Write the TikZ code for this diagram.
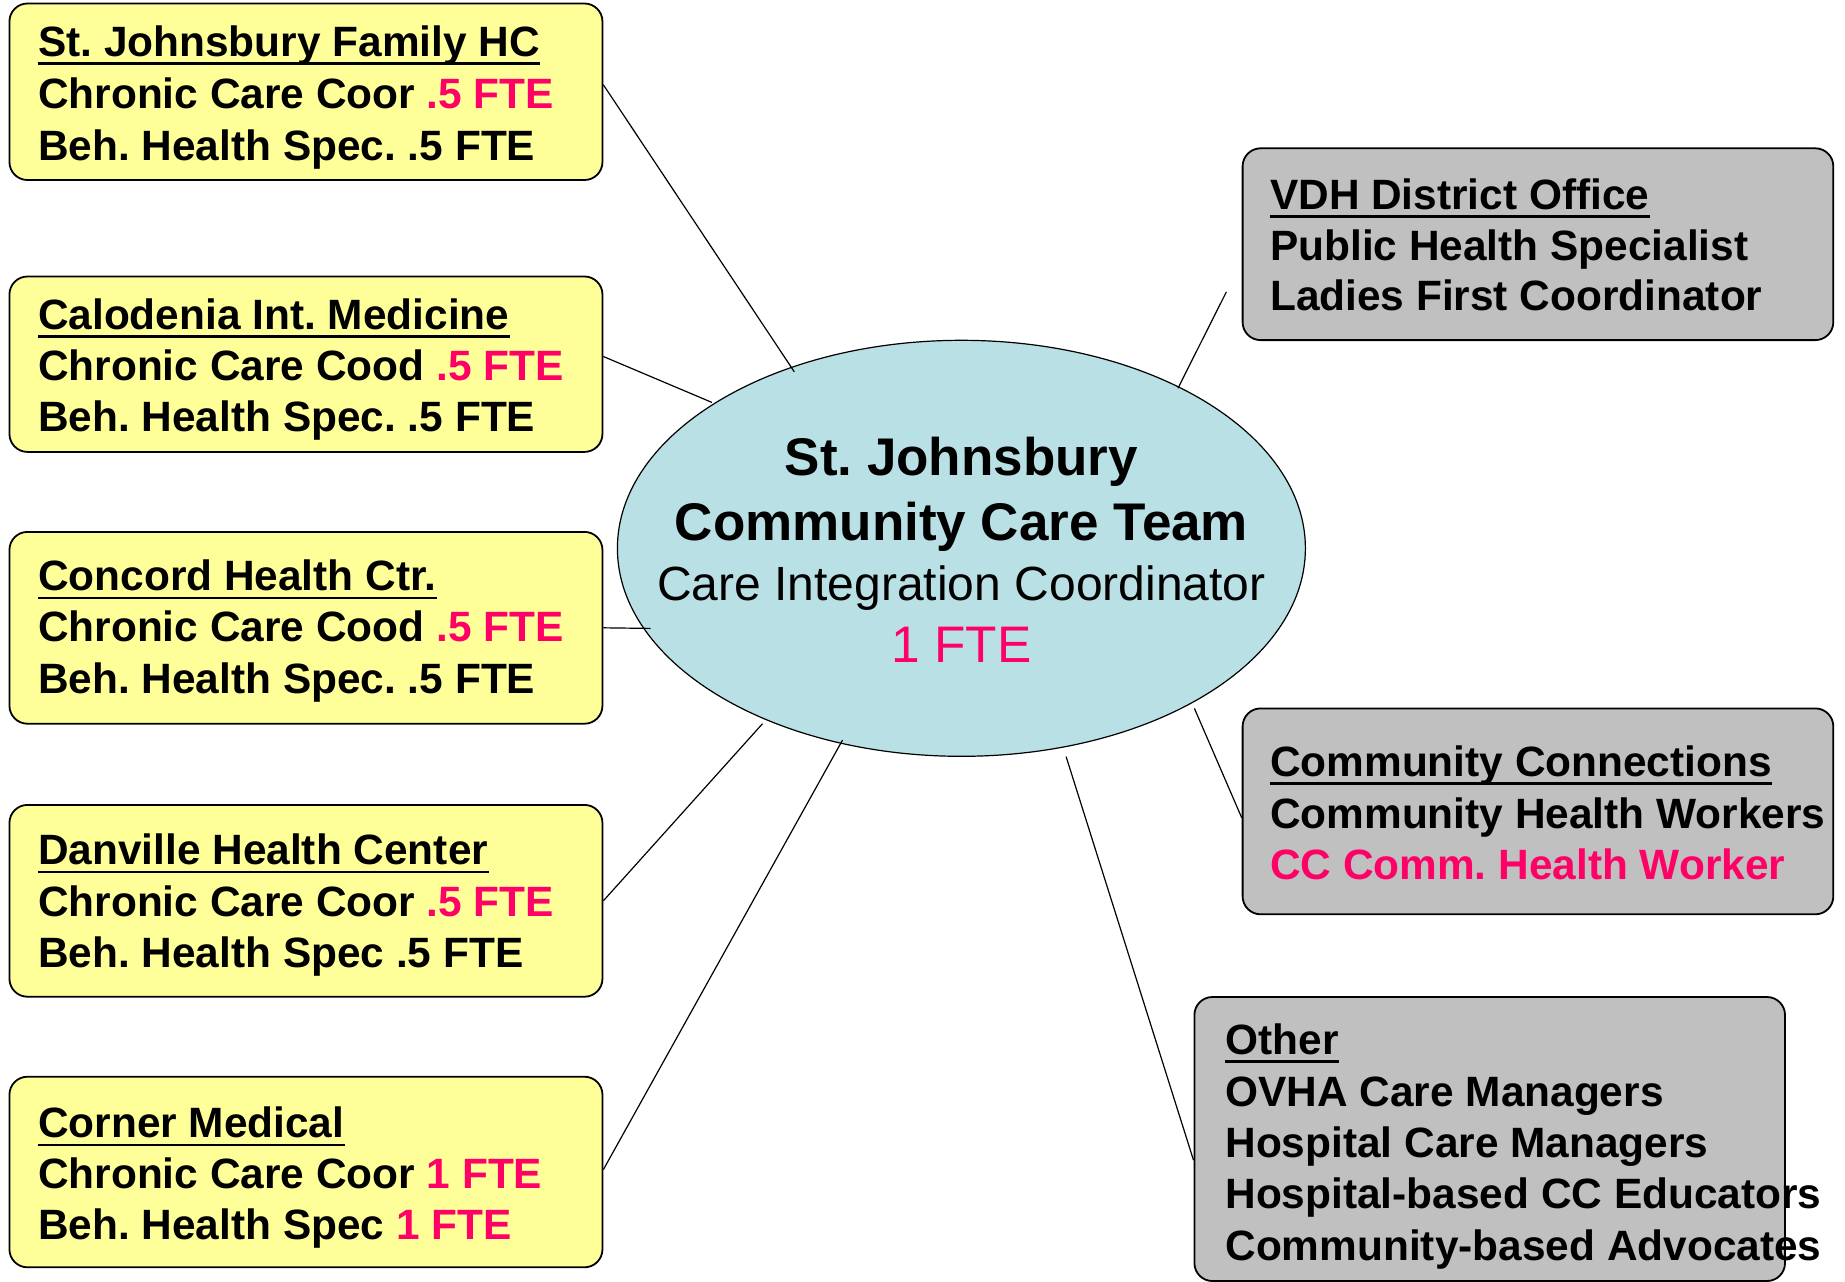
\documentclass[tikz,border=0pt]{standalone}
\usepackage{fontspec}
\setmainfont{Liberation Sans}
\usetikzlibrary{shapes.geometric}
\definecolor{fte}{RGB}{255,0,102}
\definecolor{ybox}{RGB}{255,255,153}
\definecolor{gbox}{RGB}{192,192,192}
\definecolor{ellc}{RGB}{185,224,228}
\frenchspacing
\begin{document}
\begin{tikzpicture}[x=0.5pt,y=-0.5pt,
 boxs/.style={draw=black, line width=0.9pt, rounded corners=9pt, inner sep=0pt},
 ylw/.style={boxs, fill=ybox, minimum width=296.5pt},
 gry/.style={boxs, fill=gbox},
 txt/.style={anchor=base west, inner sep=0pt, font=\fontsize{21.2}{25}\selectfont\bfseries},
 ctxt/.style={anchor=base, inner sep=0pt},
 ul/.style={line width=1.2pt},
 conn/.style={line width=0.6pt}
]
\useasboundingbox (0,0) rectangle (1845,1281);

% boxes
\node[ylw, minimum height=88.25pt] (b1) at (305.95,91.75) {};
\node[ylw, minimum height=87.7pt] (b2) at (305.95,364.2) {};
\node[ylw, minimum height=95.9pt] (b3) at (305.95,627.8) {};
\node[ylw, minimum height=95.9pt] (b4) at (305.95,900.8) {};
\node[ylw, minimum height=95.3pt] (b5) at (305.95,1172) {};
\node[gry, minimum width=295.35pt, minimum height=95.9pt] (vdh) at (1537.95,244.2) {};
\node[gry, minimum width=295.35pt, minimum height=102.95pt] (cc) at (1537.95,811.35) {};
\node[gry, minimum width=295.3pt, minimum height=142pt] (oth) at (1489.7,1139) {};

% ellipse
\node[draw=black, line width=0.6pt, ellipse, fill=ellc, minimum width=344pt, minimum height=208pt, inner sep=0pt] (cct) at (961.4,548.3) {};

% connector ends inside ellipse
\coordinate (e1) at (794.3,371.8);
\coordinate (e2) at (711.9,402.4);
\coordinate (e3) at (650.7,628.4);
\coordinate (e4) at (762.5,723.7);
\coordinate (e5) at (842.5,740.1);
\coordinate (e6) at (1177.9,388.3);
\coordinate (e7) at (1194.4,708.4);
\coordinate (e8) at (1066.1,756.6);

\draw[conn] ([yshift=3.5pt]b1.east) -- (e1);
\draw[conn] ([yshift=3.85pt]b2.east) -- (e2);
\draw[conn] (b3.east) -- (e3);
\draw[conn] (b4.east) -- (e4);
\draw[conn] ([yshift=1.2pt]b5.east) -- (e5);
\draw[conn] ([xshift=-7.65pt,yshift=-23.8pt]vdh.west) -- (e6);
\draw[conn] ([yshift=-3.2pt]cc.west) -- (e7);
\draw[conn] ([yshift=-10.6pt]oth.west) -- (e8);

% ellipse text
\node[ctxt, font=\fontsize{26.5}{30}\selectfont\bfseries] (c1) at (961.4,475) {St. Johnsbury};
\node[ctxt, font=\fontsize{26.5}{30}\selectfont\bfseries] (c2) at (961.4,540) {Community Care Team};
\node[ctxt, font=\fontsize{24}{28}\selectfont] (c3) at (961.4,600) {Care Integration Coordinator};
\node[ctxt, font=\fontsize{25.7}{30}\selectfont, text=fte] (c4) at (961.4,662) {1 FTE};

% box 1
\node[txt] (b1a) at (37.7,56.5) {St. Johnsbury Family HC};
\node[txt] (b1b) at (37.7,108.3) {Chronic Care Coor \textcolor{fte}{.5 FTE}};
\node[txt] (b1c) at (37.7,160) {Beh. Health Spec. .5 FTE};
% box 2
\node[txt] (b2a) at (37.7,329.5) {Calodenia Int. Medicine};
\node[txt] (b2b) at (37.7,380) {Chronic Care Cood \textcolor{fte}{.5 FTE}};
\node[txt] (b2c) at (37.7,431.9) {Beh. Health Spec. .5 FTE};
% box 3
\node[txt] (b3a) at (37.7,590.7) {Concord Health Ctr.};
\node[txt] (b3b) at (37.7,641.3) {Chronic Care Cood \textcolor{fte}{.5 FTE}};
\node[txt] (b3c) at (37.7,693) {Beh. Health Spec. .5 FTE};
% box 4
\node[txt] (b4a) at (37.7,864.9) {Danville Health Center};
\node[txt] (b4b) at (37.7,916.6) {Chronic Care Coor \textcolor{fte}{.5 FTE}};
\node[txt] (b4c) at (37.7,967.3) {Beh. Health Spec .5 FTE};
% box 5
\node[txt] (b5a) at (37.7,1137.9) {Corner Medical};
\node[txt] (b5b) at (37.7,1188.5) {Chronic Care Coor \textcolor{fte}{1 FTE}};
\node[txt] (b5c) at (37.7,1239.1) {Beh. Health Spec \textcolor{fte}{1 FTE}};
% VDH
\node[txt] (v1) at (1269.7,209.5) {VDH District Office};
\node[txt] (v2) at (1269.7,260) {Public Health Specialist};
\node[txt] (v3) at (1269.7,310.6) {Ladies First Coordinator};
% Community Connections
\node[txt] (k1) at (1269.7,776.6) {Community Connections};
\node[txt] (k2) at (1269.7,828.4) {Community Health Workers};
\node[txt, text=fte] (k3) at (1269.7,879) {CC Comm. Health Worker};
% Other
\node[txt] (o1) at (1225,1054.3) {Other};
\node[txt] (o2) at (1225,1106.1) {OVHA Care Managers};
\node[txt] (o3) at (1225,1157.9) {Hospital Care Managers};
\node[txt] (o4) at (1225,1208.5) {Hospital-based CC Educators};
\node[txt] (o5) at (1225,1260.3) {Community-based Advocates};

% underlines
\foreach \n in {b1a,b2a,b3a,b4a,b5a,v1,k1,o1}
  \draw[ul] ([yshift=-3.5pt]\n.base west) -- ([yshift=-3.5pt]\n.base east);
\end{tikzpicture}
\end{document}
